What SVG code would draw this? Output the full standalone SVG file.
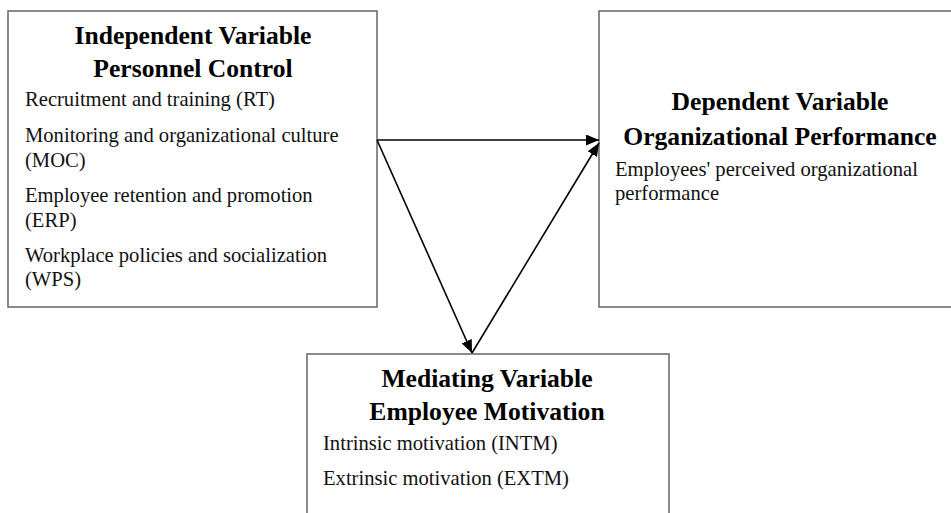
<svg xmlns="http://www.w3.org/2000/svg" width="951" height="513" viewBox="0 0 951 513">
  <defs>
    <marker id="arrow" viewBox="0 0 13 11" refX="13" refY="5.5" markerWidth="13" markerHeight="11" markerUnits="userSpaceOnUse" orient="auto">
      <path d="M0,0 L13,5.5 L0,11 Z" fill="#000"/>
    </marker>
    <style>
      .box { fill: #fff; stroke: #6e6e6e; stroke-width: 1.6; }
      .title { font-family: "Liberation Serif", "Times New Roman", serif; font-weight: bold; font-size: 25.6px; fill: #000; text-anchor: middle; }
      .body { font-family: "Liberation Serif", "Times New Roman", serif; font-size: 20.6px; fill: #111; }
      .link { stroke: #000; stroke-width: 1.6; fill: none; marker-end: url(#arrow); }
    </style>
  </defs>
  <rect width="951" height="513" fill="#fff"/>

  <g id="independent">
    <rect class="box" x="8" y="11" width="369" height="296"/>
    <text class="title" x="193" y="44">Independent Variable</text>
    <text class="title" x="193" y="77">Personnel Control</text>
    <text class="body" x="25" y="106">Recruitment and training (RT)</text>
    <text class="body" x="25" y="142">Monitoring and organizational culture</text>
    <text class="body" x="25" y="167">(MOC)</text>
    <text class="body" x="25" y="202">Employee retention and promotion</text>
    <text class="body" x="25" y="227">(ERP)</text>
    <text class="body" x="25" y="262">Workplace policies and socialization</text>
    <text class="body" x="25" y="286">(WPS)</text>
  </g>

  <g id="dependent">
    <rect class="box" x="599" y="11" width="362" height="296"/>
    <text class="title" x="780" y="110">Dependent Variable</text>
    <text class="title" x="780" y="145">Organizational Performance</text>
    <text class="body" x="615" y="176">Employees' perceived organizational</text>
    <text class="body" x="615" y="200">performance</text>
  </g>

  <g id="mediating">
    <rect class="box" x="307" y="354" width="362" height="170"/>
    <text class="title" x="487" y="387">Mediating Variable</text>
    <text class="title" x="487" y="420">Employee Motivation</text>
    <text class="body" x="323" y="450">Intrinsic motivation (INTM)</text>
    <text class="body" x="323" y="485">Extrinsic motivation (EXTM)</text>
  </g>

  <g id="connectors">
    <line class="link" x1="377" y1="140" x2="599" y2="140"/>
    <line class="link" x1="377" y1="140" x2="472" y2="353"/>
    <line class="link" x1="472" y1="353" x2="599" y2="143"/>
  </g>
</svg>
